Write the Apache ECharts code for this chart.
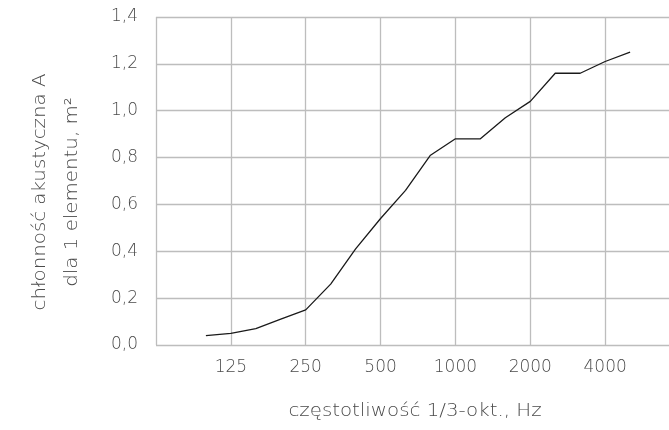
<!DOCTYPE html>
<html><head><meta charset="utf-8">
<script src="https://cdn.jsdelivr.net/npm/echarts@6/dist/echarts.min.js"></script>
<style>html,body{margin:0;padding:0;background:#fff}#c{width:669px;height:430px}</style>
</head><body><div id="c"></div>
<script>
// 1/3-octave band centre frequencies (axis spans 63..8000 Hz)
const categories = ['63','80','100','125','160','200','250','315','400','500','630','800','1000','1250','1600','2000','2500','3150','4000','5000','6300','8000'];
// sound absorption A per element, m² (null = not measured)
const absorption = [null,null,0.04,0.05,0.07,0.11,0.15,0.26,0.41,0.54,0.66,0.81,0.88,0.88,0.97,1.04,1.16,1.16,1.21,1.25,null,null];
const gridLabels = ['125','250','500','1000','2000','4000'];
const gridLines = ['63','125','250','500','1000','2000','4000','8000'];
const yTicks = [0,0.2,0.4,0.6,0.8,1.0,1.2,1.4];
const xName = 'częstotliwość 1/3-okt., Hz';
const yName = ['chłonność akustyczna A','dla 1 elementu, m²'];

const FONT = '"DejaVu Sans", sans-serif';
const TXT = '#4a4a4a';
const FS = 17;
const TFS = 18;
const chart = echarts.init(document.getElementById('c'), null, {renderer:'canvas'});
chart.setOption({
  animation:false,
  grid:{left:156, top:17, width:524, height:328, outerBoundsMode:'none', containLabel:false},
  xAxis:{
    type:'category', data:categories, boundaryGap:false,
    axisLine:{show:false}, axisTick:{show:false},
    axisLabel:{interval:(i,v)=>gridLabels.includes(v), color:TXT, fontFamily:FONT, fontWeight:300, fontSize:FS, margin:14},
    splitLine:{show:true, interval:(i,v)=>gridLines.includes(v), lineStyle:{color:'#bdbdbd', width:1.3}}
  },
  yAxis:{
    type:'value', min:yTicks[0], max:yTicks[yTicks.length-1], interval:0.2,
    axisLine:{show:false}, axisTick:{show:false},
    axisLabel:{color:TXT, fontFamily:FONT, fontWeight:300, fontSize:FS, margin:18,
      formatter:v=>v.toFixed(1).replace('.',',')},
    splitLine:{show:true, lineStyle:{color:'#bdbdbd', width:1.3}}
  },
  graphic:[{
    type:'text', x:415, y:411, scaleX:1.1,
    style:{text:xName, textAlign:'center', textVerticalAlign:'middle',
      fill:TXT, font:'300 '+TFS+'px '+FONT}
  },{
    type:'text', x:56, y:192, rotation:Math.PI/2, scaleX:1.1,
    style:{text:yName.join('\n'), textAlign:'center', textVerticalAlign:'middle',
      fill:TXT, font:'300 '+TFS+'px '+FONT, lineHeight:32}
  }],
  series:[{
    type:'line', data:absorption, symbol:'none', connectNulls:false,
    lineStyle:{color:'#1a1a1a', width:1.3}
  }]
});
</script></body></html>
